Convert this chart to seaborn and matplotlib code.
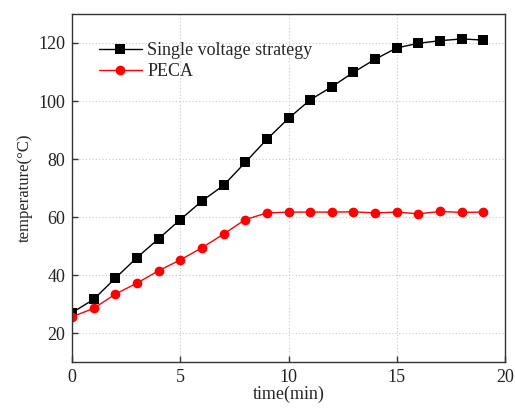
import numpy as np
import pandas as pd
import seaborn as sns
import matplotlib
matplotlib.use("Agg")
import matplotlib.pyplot as plt

time_min = list(range(20))
single_voltage = [27.0, 31.6, 38.9, 46.0, 52.5, 59.1, 65.5, 70.9, 78.8, 86.8,
                  94.0, 100.4, 104.9, 109.9, 114.4, 118.3, 119.9, 120.8, 121.4, 121.0]
peca = [25.6, 28.5, 33.4, 37.2, 41.5, 45.2, 49.4, 54.1, 59.1, 61.4,
        61.7, 61.7, 61.7, 61.8, 61.4, 61.7, 61.1, 61.9, 61.6, 61.7]
series_names = ["Single voltage strategy", "PECA"]

df = pd.DataFrame({
    "time": time_min * 2,
    "temp": single_voltage + peca,
    "series": [series_names[0]] * len(time_min) + [series_names[1]] * len(time_min),
})

sns.set_theme(style="ticks")
plt.rcParams['font.family'] = ['Liberation Serif', 'DejaVu Serif']

fig = plt.figure(figsize=(5.15, 4.08), dpi=100)
ax = fig.add_axes([0.1398, 0.1127, 0.8408, 0.853])

sns.lineplot(data=df, x="time", y="temp", hue="series", style="series",
             palette={series_names[0]: "black", series_names[1]: "#ff0000"},
             markers={series_names[0]: "s", series_names[1]: "o"},
             dashes=False, markersize=7, linewidth=1.0, markeredgewidth=0,
             ax=ax)

ax.set_xlim(0, 20)
ax.set_ylim(10, 130)
ax.set_xticks([0, 5, 10, 15, 20])
ax.set_yticks([20, 40, 60, 80, 100, 120])
ax.grid(True, linestyle=(0, (1, 2)), color="#c8c8c8", linewidth=0.8)
ax.set_axisbelow(True)
for s in ax.spines.values():
    s.set_visible(True)
    s.set_linewidth(1.0)
    s.set_color("#333333")
ax.tick_params(axis='both', labelsize=13, direction='in', length=4.5, width=1.0,
               pad=5, colors="#333333", labelcolor="#222222")
ax.set_xlabel("time(min)", fontsize=13, labelpad=0)
ax.set_ylabel("temperature(°C)", fontsize=12, labelpad=4)

leg = ax.legend(loc="upper left", frameon=False, fontsize=13, handlelength=2.4,
                borderaxespad=0.6, labelspacing=0.2, handletextpad=0.3,
                bbox_to_anchor=(0.02, 0.97))

fig.savefig("out.png", dpi=100)
